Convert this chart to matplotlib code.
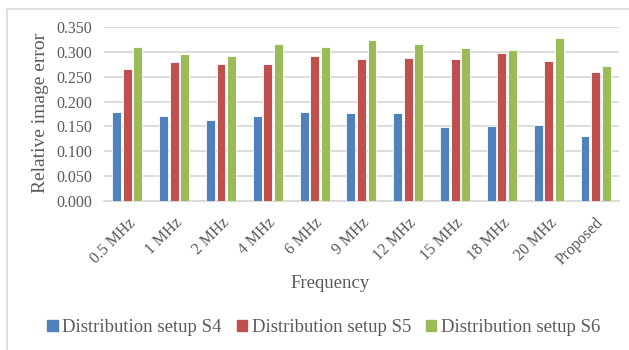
import matplotlib.pyplot as plt
import numpy as np
from matplotlib.lines import Line2D
from matplotlib.patches import Rectangle

plt.rcParams['font.family'] = ['Liberation Serif', 'DejaVu Serif']

freqs = ['0.5 MHz', '1 MHz', '2 MHz', '4 MHz', '6 MHz', '9 MHz',
         '12 MHz', '15 MHz', '18 MHz', '20 MHz', 'Proposed']
s4 = [0.179, 0.170, 0.162, 0.170, 0.178, 0.176, 0.176, 0.148, 0.150, 0.152, 0.131]
s5 = [0.266, 0.279, 0.275, 0.275, 0.291, 0.285, 0.287, 0.285, 0.297, 0.281, 0.260]
s6 = [0.310, 0.295, 0.291, 0.315, 0.310, 0.324, 0.315, 0.307, 0.303, 0.327, 0.272]
names = ['Distribution setup S4', 'Distribution setup S5', 'Distribution setup S6']
colors = ['#4F81BD', '#C0504D', '#9BBB59']

txt = '#595959'
grid = '#D9D9D9'

fig = plt.figure(figsize=(6.29, 3.5), dpi=100)
ax = fig.add_axes([0.1653, 0.4249, 0.8187, 0.4988])

x = np.arange(len(freqs))
w = 0.19
step = 0.225
for i, (vals, c, n) in enumerate(zip([s4, s5, s6], colors, names)):
    ax.bar(x + (i - 1) * step, vals, w, color=c, edgecolor='white',
           linewidth=0.6, label=n, zorder=3)

ax.set_xlim(-0.5, len(freqs) - 0.5)
ax.set_ylim(0, 0.35)
ax.set_yticks(np.arange(0, 0.351, 0.05))
ax.set_yticklabels(['%.3f' % v for v in np.arange(0, 0.351, 0.05)])
ax.yaxis.grid(True, color=grid, linewidth=1.3, zorder=0)
ax.set_axisbelow(True)
for s in ['top', 'right', 'left']:
    ax.spines[s].set_visible(False)
ax.spines['bottom'].set_color(grid)
ax.spines['bottom'].set_linewidth(1.3)
ax.tick_params(axis='both', length=0, colors=txt, labelsize=11.5)
ax.tick_params(axis='y', pad=8.5)

ax.set_xticks(x)
ax.set_xticklabels(freqs, rotation=45, ha='right', va='top',
                   rotation_mode='anchor')
ax.tick_params(axis='x', pad=10)

fig.text(0.064, 0.677, 'Relative image error', rotation=90, ha='center',
         va='center', color=txt, fontsize=14)
fig.text(0.525, 0.19, 'Frequency', ha='center', va='center',
         color=txt, fontsize=13.5)

handles = [Rectangle((0, 0), 1, 1, color=c) for c in colors]
fig.legend(handles, names, loc='center', bbox_to_anchor=(0.515, 0.063),
           ncol=3, frameon=False, fontsize=13.5, labelcolor=txt,
           handlelength=0.55, handleheight=0.55, handletextpad=0.25,
           columnspacing=0.8)

# thin chart frame on the left and top
fig.add_artist(Line2D([7 / 629, 7 / 629], [0, 1 - 9 / 350],
                      color='#D9D9D9', linewidth=1.2))
fig.add_artist(Line2D([7 / 629, 1], [1 - 9 / 350, 1 - 9 / 350],
                      color='#D9D9D9', linewidth=1.2))

fig.savefig('out.png', dpi=100)
